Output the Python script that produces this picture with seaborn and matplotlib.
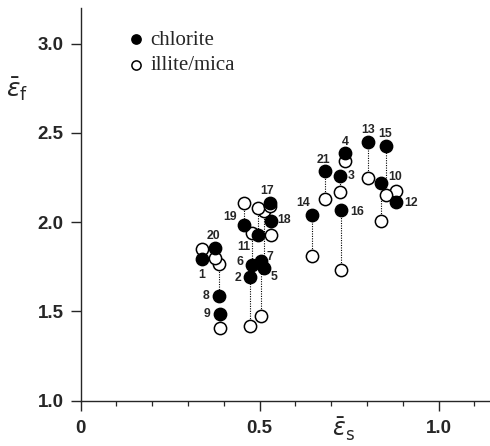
import numpy as np
import pandas as pd
import matplotlib
matplotlib.use('Agg')
import matplotlib.pyplot as plt
import seaborn as sn

# sample numbers and mean strains
amostras = list(range(1, 22))
eps_s = [0.339, 0.472, 0.725, 0.739, 0.512, 0.480, 0.504, 0.388, 0.390, 0.840, 0.497,
         0.881, 0.803, 0.646, 0.852, 0.727, 0.528, 0.533, 0.457, 0.377, 0.682]
eps_f_chlorite = [1.795, 1.692, 2.257, 2.388, 1.745, 1.762, 1.781, 1.588, 1.487, 2.220, 1.927,
                  2.115, 2.450, 2.042, 2.425, 2.066, 2.109, 2.004, 1.984, 1.854, 2.289]
eps_f_illite = [1.851, 1.419, 2.171, 2.341, 2.061, 1.939, 1.475, 1.765, 1.410, 2.004, 2.080,
                2.173, 2.248, 1.808, 2.154, 1.730, 2.093, 1.930, 2.108, 1.799, 2.132]

dados = pd.DataFrame({'amostra': amostras, 'eps_s': eps_s,
                      'chlorite': eps_f_chlorite, 'illite': eps_f_illite})

# deslocamento dos numeros (pixels, y para baixo)
desloc = {1: (0, 16), 2: (-12, 1), 3: (11, 0), 4: (0, -11), 5: (10, 9), 6: (-12, -3),
          7: (9, -4), 8: (-13, 0), 9: (-13, 0), 10: (14, -6), 11: (-15, 12), 12: (15, 1),
          13: (0, -12), 14: (-9, -12), 15: (0, -12), 16: (16, 2), 17: (-2, -12), 18: (13, -1),
          19: (-14, -8), 20: (-2, -12), 21: (-1, -11)}

sn.set_style('ticks')
plt.rcParams['font.family'] = ['Liberation Sans', 'DejaVu Sans']

fig = plt.figure(figsize=(4.9, 4.46), dpi=100)
ax = fig.add_axes([0.1643, 0.1016, 0.833, 0.8805])

# linhas pontilhadas ligando os pares
ax.vlines(dados['eps_s'], dados['illite'], dados['chlorite'], colors='k',
          linestyles=(0, (1, 1.2)), linewidth=0.8, zorder=1)

sn.scatterplot(data=dados, x='eps_s', y='illite', ax=ax, s=78, color='white',
               edgecolor='k', linewidth=1.1, label='illite/mica', zorder=2)
sn.scatterplot(data=dados, x='eps_s', y='chlorite', ax=ax, s=78, color='k',
               edgecolor='k', linewidth=1.1, label='chlorite', zorder=3)

for _, r in dados.iterrows():
    dx, dy = desloc[int(r['amostra'])]
    ax.annotate(str(int(r['amostra'])), (r['eps_s'], r['chlorite']),
                xytext=(dx * 0.72, -dy * 0.72), textcoords='offset points',
                ha='center', va='center', fontsize=8.8, fontweight='bold')

ax.set_xlim(0, 1.14)
ax.set_ylim(1.0, 3.2)
ax.set_xticks([0, 0.5, 1.0])
ax.set_xticklabels(['0', '0.5', '1.0'])
ax.set_xticks(np.arange(0.1, 1.14, 0.1), minor=True)
ax.set_yticks([1.0, 1.5, 2.0, 2.5, 3.0])
ax.set_yticklabels(['1.0', '1.5', '2.0', '2.5', '3.0'])
ax.tick_params(axis='x', which='major', length=7, width=1, pad=7, labelsize=13.5)
ax.tick_params(axis='x', which='minor', length=3.5, width=0.9)
ax.tick_params(axis='y', which='major', length=7, width=1, pad=5, labelsize=13.5)
for lab in ax.get_xticklabels() + ax.get_yticklabels():
    lab.set_fontweight('bold')
sn.despine(ax=ax)
ax.spines['left'].set_linewidth(1)
ax.spines['bottom'].set_linewidth(1)
ax.set_xlabel('')
ax.set_ylabel('')

fig.text(0.012, 0.80, r'$\bar{\varepsilon}_{\rm f}$', fontsize=18, ha='left', va='center')
fig.text(0.70, 0.006, r'$\bar{\varepsilon}_{\rm s}$', fontsize=17, ha='center', va='bottom')

handles, labels = ax.get_legend_handles_labels()
ax.legend(handles[::-1], labels[::-1], loc='upper left', bbox_to_anchor=(0.08, 0.965),
          frameon=False, prop={'family': 'Liberation Serif', 'size': 15},
          handletextpad=0.0, handlelength=1.4, labelspacing=0.28, markerscale=0.75,
          borderaxespad=0)

plt.savefig('out.png', dpi=100)
plt.close()
